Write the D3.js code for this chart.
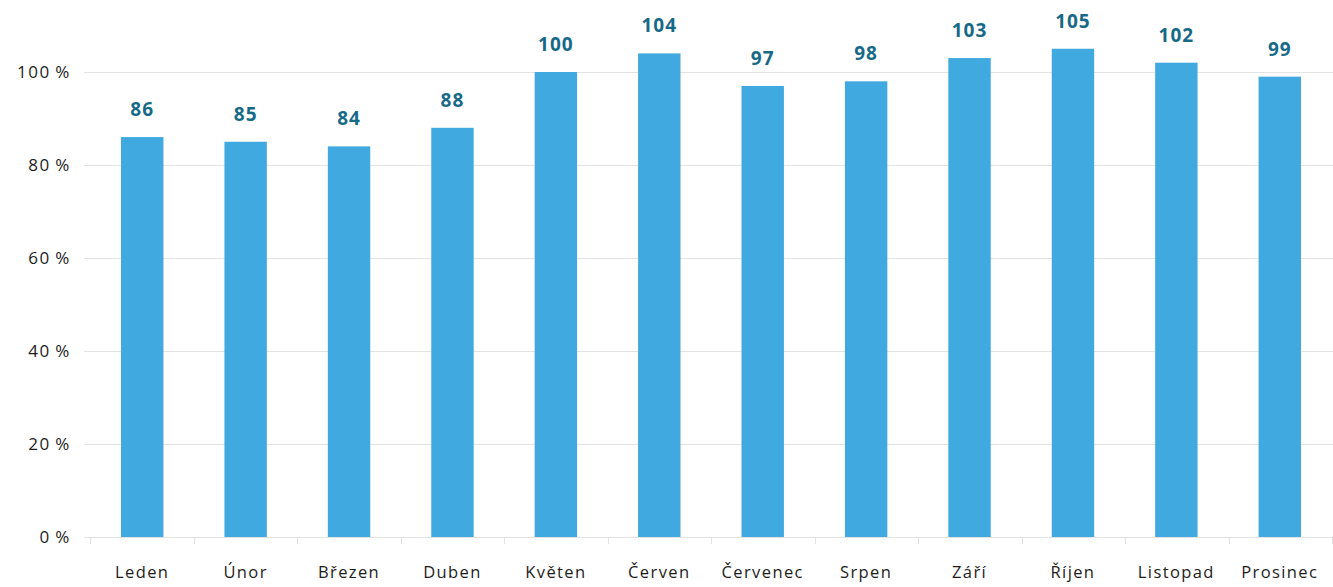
<!DOCTYPE html>
<html>
<head>
<meta charset="utf-8">
<script src="https://cdn.jsdelivr.net/npm/d3@7"></script>
<style>
  html, body { margin: 0; padding: 0; background: #fff; }
  svg { display: block; font-family: "Open Sans", "Noto Sans", sans-serif; }
</style>
</head>
<body>
<svg id="chart" width="1333" height="587"></svg>
<script>
// Monthly index values (%)
const months = ["Leden", "Únor", "Březen", "Duben", "Květen", "Červen",
                "Červenec", "Srpen", "Září", "Říjen", "Listopad", "Prosinec"];
const values = [86, 85, 84, 88, 100, 104, 97, 98, 103, 105, 102, 99];
const yTicks = [0, 20, 40, 60, 80, 100];

const svg = d3.select("#chart");
const plot = { left: 90, right: 1332, top: 72, bottom: 537 };

const x = d3.scaleBand()
  .domain(months)
  .range([plot.left, plot.right])
  .paddingInner(0.59)
  .paddingOuter(0.3);

const y = d3.scaleLinear()
  .domain([0, 100])
  .range([plot.bottom, plot.top]);

// horizontal gridlines
svg.append("g")
  .selectAll("line")
  .data(yTicks)
  .join("line")
  .attr("x1", 84)
  .attr("x2", 1333)
  .attr("y1", d => Math.round(y(d)) + 0.5)
  .attr("y2", d => Math.round(y(d)) + 0.5)
  .attr("stroke", "#e3e3e3")
  .attr("stroke-width", 1);

// y tick labels
svg.append("g")
  .selectAll("text")
  .data(yTicks)
  .join("text")
  .attr("x", 71)
  .attr("y", d => y(d))
  .attr("dy", "0.36em")
  .attr("text-anchor", "end")
  .attr("fill", "#1d1d1b")
  .attr("font-size", 17)
  .attr("letter-spacing", "1.6px")
  .text(d => d + "\u2009%");

// x axis tick marks at band boundaries
const bounds = d3.range(months.length + 1).map(i => plot.left + i * (plot.right - plot.left) / months.length);
svg.append("g")
  .selectAll("line")
  .data(bounds)
  .join("line")
  .attr("x1", d => Math.round(d) + 0.5)
  .attr("x2", d => Math.round(d) + 0.5)
  .attr("y1", plot.bottom)
  .attr("y2", plot.bottom + 7)
  .attr("stroke", "#e0e0e0");

// bars
svg.append("g")
  .selectAll("rect")
  .data(months)
  .join("rect")
  .attr("x", d => x(d))
  .attr("width", x.bandwidth())
  .attr("y", (d, i) => y(values[i]))
  .attr("height", (d, i) => y(0) - y(values[i]))
  .attr("fill", "#3fa9e0");

// value labels
svg.append("g")
  .selectAll("text")
  .data(months)
  .join("text")
  .attr("x", d => x(d) + x.bandwidth() / 2)
  .attr("y", (d, i) => y(values[i]) - 21)
  .attr("text-anchor", "middle")
  .attr("fill", "#176a87")
  .attr("font-size", 19)
  .attr("font-weight", 700)
  .attr("letter-spacing", "1px")
  .text((d, i) => values[i]);

// month labels
svg.append("g")
  .selectAll("text")
  .data(months)
  .join("text")
  .attr("x", d => x(d) + x.bandwidth() / 2)
  .attr("y", 578)
  .attr("text-anchor", "middle")
  .attr("fill", "#1d1d1b")
  .attr("font-size", 16.5)
  .attr("letter-spacing", "1.4px")
  .text(d => d);
</script>
</body>
</html>
